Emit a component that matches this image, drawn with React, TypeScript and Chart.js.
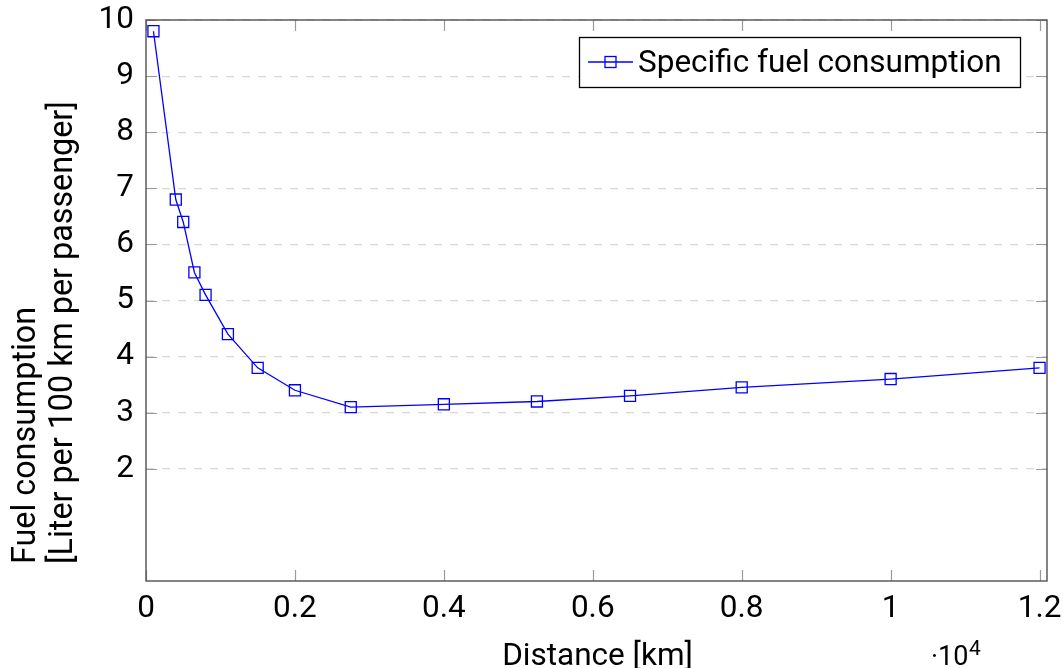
import React, { useEffect, useRef } from 'react';
import { Chart, registerables } from 'chart.js';

Chart.register(...registerables);

// ---- data ----
const distances = [100, 400, 500, 650, 800, 1100, 1500, 2000, 2750, 4000, 5250, 6500, 8000, 10000, 12000];
const consumption = [9.8, 6.8, 6.4, 5.5, 5.1, 4.4, 3.8, 3.4, 3.1, 3.15, 3.2, 3.3, 3.45, 3.6, 3.8];
const xTickValues = [0, 2000, 4000, 6000, 8000, 10000, 12000];
const xTickLabels = ['0', '0.2', '0.4', '0.6', '0.8', '1', '1.2'];
const yTickValues = [2, 3, 4, 5, 6, 7, 8, 9, 10];
const seriesLabel = 'Specific fuel consumption';
const xTitle = 'Distance [km]';
const yTitleLines = ['Fuel consumption', '[Liter per 100 km per passenger]'];
const xMultiplierBase = '·10';
const xMultiplierExp = '4';

const FONT = 'Roboto, "Noto Sans", sans-serif';
const BLUE = '#0000ff';
const FS = 31.5;

function drawSquare(ctx: CanvasRenderingContext2D, cx: number, cy: number, side: number) {
  ctx.strokeRect(cx - side / 2, cy - side / 2, side, side);
}

const decorPlugin = {
  id: 'decor',
  beforeDatasetsDraw(chart: any) {
    const { ctx, chartArea, scales } = chart;
    const { left, right, top, bottom } = chartArea;
    const x = scales.x;
    const y = scales.y;
    ctx.save();
    ctx.strokeStyle = '#9a9a9a';
    ctx.lineWidth = 1.2;
    ctx.beginPath();
    for (const v of xTickValues) {
      const px = Math.round(x.getPixelForValue(v)) + 0.5;
      ctx.moveTo(px, bottom);
      ctx.lineTo(px, bottom - 11);
      ctx.moveTo(px, top);
      ctx.lineTo(px, top + 11);
    }
    for (const v of yTickValues) {
      const py = Math.round(y.getPixelForValue(v)) + 0.5;
      ctx.moveTo(left, py);
      ctx.lineTo(left + 11, py);
      ctx.moveTo(right, py);
      ctx.lineTo(right - 11, py);
    }
    ctx.stroke();
    ctx.strokeStyle = '#505050';
    ctx.lineWidth = 1.4;
    ctx.strokeRect(left, top, right - left, bottom - top);
    ctx.restore();
  },
  afterDraw(chart: any) {
    const { ctx, chartArea } = chart;
    const { left, right } = chartArea;
    ctx.save();
    ctx.fillStyle = '#000';
    // x title
    ctx.font = `${FS}px ${FONT}`;
    ctx.textAlign = 'center';
    ctx.textBaseline = 'alphabetic';
    ctx.fillText(xTitle, (left + right) / 2 + 1, 665);
    // multiplier
    ctx.textAlign = 'left';
    ctx.font = `27px ${FONT}`;
    ctx.fillText(xMultiplierBase, 931, 665);
    const w = ctx.measureText(xMultiplierBase).width;
    ctx.font = `21px ${FONT}`;
    ctx.fillText(xMultiplierExp, 931 + w + 0.5, 655);
    // y title
    ctx.font = `32.3px ${FONT}`;
    ctx.save();
    ctx.translate(35, 564);
    ctx.rotate(-Math.PI / 2);
    ctx.textAlign = 'left';
    ctx.fillText(yTitleLines[0], 0, 0);
    ctx.fillText(yTitleLines[1], 0, 36.7);
    ctx.restore();
    // legend
    const lx = 579, ly = 37, lw = 441, lh = 50;
    ctx.fillStyle = '#fff';
    ctx.fillRect(lx, ly, lw, lh);
    ctx.strokeStyle = '#000';
    ctx.lineWidth = 1.3;
    ctx.strokeRect(lx + 0.5, ly + 0.5, lw, lh);
    ctx.strokeStyle = BLUE;
    ctx.lineWidth = 1.3;
    ctx.beginPath();
    ctx.moveTo(588, 62);
    ctx.lineTo(633, 62);
    ctx.stroke();
    drawSquare(ctx, 610.5, 62, 11);
    ctx.fillStyle = '#000';
    ctx.font = `${FS}px ${FONT}`;
    ctx.textAlign = 'left';
    ctx.fillText(seriesLabel, 638, 72);
    ctx.restore();
  },
};

export default function App() {
  const canvasRef = useRef<HTMLCanvasElement | null>(null);

  useEffect(() => {
    const canvas = canvasRef.current;
    if (!canvas) return;
    const chart = new Chart(canvas, {
      type: 'line',
      data: {
        datasets: [
          {
            label: seriesLabel,
            data: distances.map((d, i) => ({ x: d, y: consumption[i] })),
            borderColor: BLUE,
            borderWidth: 1.3,
            pointStyle: 'rect',
            pointRadius: 7.8,
            pointBorderWidth: 1.3,
            pointBorderColor: BLUE,
            pointBackgroundColor: 'rgba(0,0,0,0)',
            fill: false,
            tension: 0,
          },
        ],
      },
      options: {
        animation: false,
        responsive: false,
        devicePixelRatio: 1,
        layout: { padding: { left: 0, top: 20, right: 16, bottom: 0 } },
        plugins: {
          legend: { display: false },
          tooltip: { enabled: false },
        },
        scales: {
          x: {
            type: 'linear',
            min: 0,
            max: 12100,
            afterBuildTicks: (scale: any) => {
              scale.ticks = xTickValues.map((v) => ({ value: v }));
            },
            afterFit: (scale: any) => {
              scale.height = 87;
              scale.paddingLeft = 0;
              scale.paddingRight = 0;
            },
            grid: { display: false, drawTicks: false },
            border: { display: false },
            ticks: {
              padding: 9,
              color: '#000',
              font: { family: FONT, size: FS },
              maxRotation: 0,
              autoSkip: false,
              callback: (_v: any, i: number) => xTickLabels[i],
            },
          },
          y: {
            type: 'linear',
            min: 0,
            max: 10,
            afterBuildTicks: (scale: any) => {
              scale.ticks = yTickValues.map((v) => ({ value: v }));
            },
            afterFit: (scale: any) => {
              scale.width = 146;
              scale.paddingTop = 0;
              scale.paddingBottom = 0;
            },
            grid: { color: '#d6d6d6', lineWidth: 1.2, drawTicks: false },
            border: { display: false, dash: [8, 8] },
            ticks: {
              padding: 12,
              color: '#000',
              font: { family: FONT, size: FS },
              autoSkip: false,
              callback: (v: any) => String(v),
            },
          },
        },
      },
      plugins: [decorPlugin],
    });
    return () => chart.destroy();
  }, []);

  return (
    <div style={{ position: 'absolute', left: 0, top: 0, width: 1063, height: 668, background: '#fff' }}>
      <canvas ref={canvasRef} width={1063} height={668} style={{ display: 'block' }} />
    </div>
  );
}
